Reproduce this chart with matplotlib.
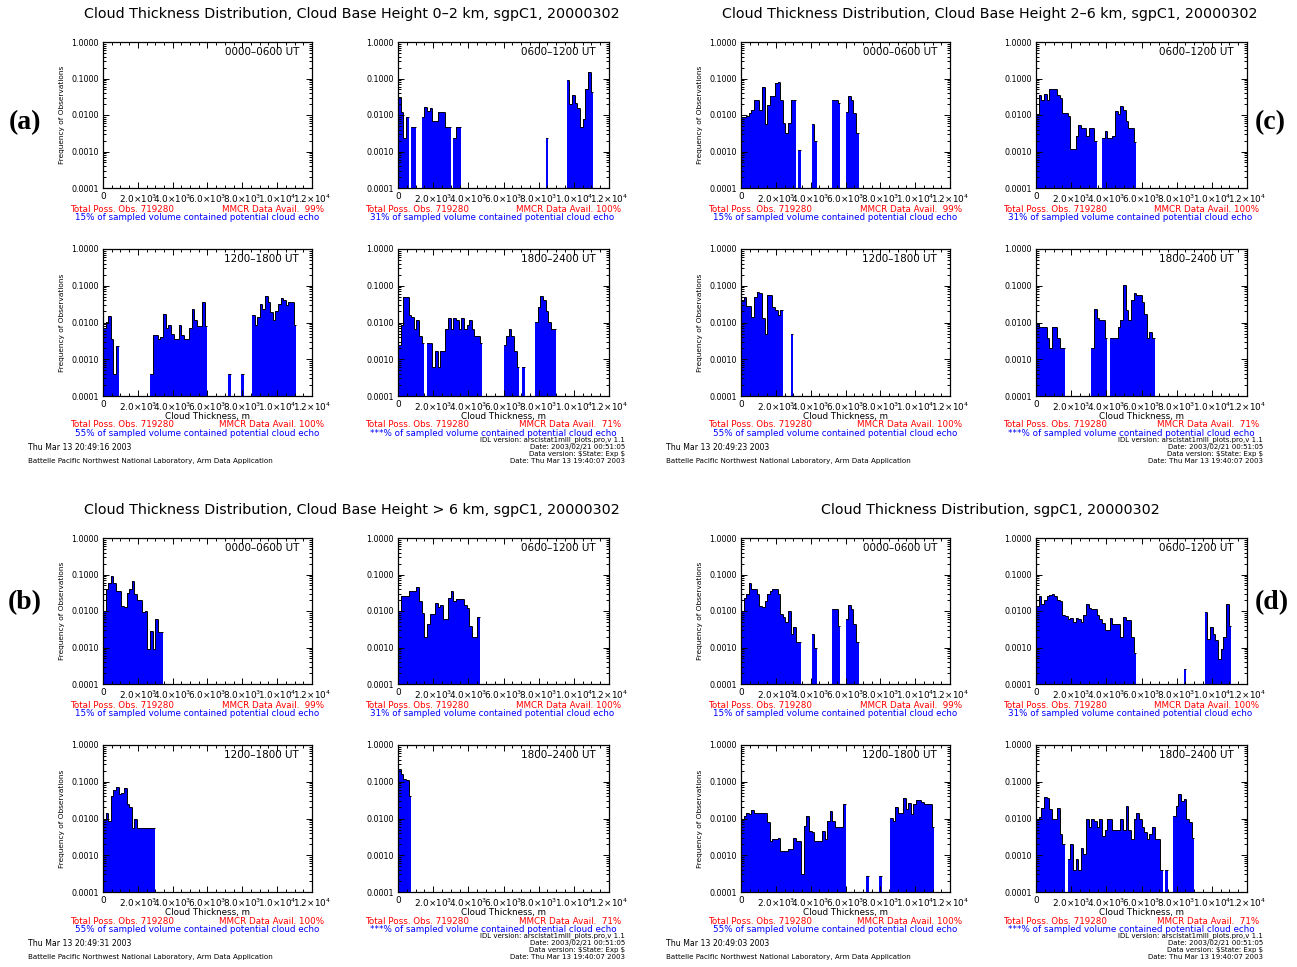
import numpy as np
import matplotlib.pyplot as plt
from matplotlib.ticker import FixedLocator, MultipleLocator, NullFormatter

# histogram bins: 150 m cloud-thickness classes, 0-12 km
BIN_WIDTH = 150.0
N_BINS = 80
bin_left = np.arange(N_BINS) * BIN_WIDTH

time_labels = ["0000–0600 UT", "0600–1200 UT", "1200–1800 UT", "1800–2400 UT"]
x_tick_values = [0, 2000, 4000, 6000, 8000, 10000, 12000]
x_tick_labels = ["0", r"2.0$\times$10$^3$", r"4.0$\times$10$^3$", r"6.0$\times$10$^3$",
                 r"8.0$\times$10$^3$", r"1.0$\times$10$^4$", r"1.2$\times$10$^4$"]
y_tick_values = [1e-4, 1e-3, 1e-2, 1e-1, 1.0]
y_tick_labels = ["0.0001", "0.0010", "0.0100", "0.1000", "1.0000"]

mmcr_avail = ["MMCR Data Avail.  99%", "MMCR Data Avail. 100%",
              "MMCR Data Avail. 100%", "MMCR Data Avail.  71%"]
echo_pct = ["15%", "31%", "55%", "***%"]
total_obs = "Total Poss. Obs. 719280"

# (a) cloud base 0-2 km
a_0000 = []
a_0600 = ([0.031, 0.012, 0.0024, 0.009, 0, 0.0047, 0.0047, 0, 0, 0.009, 0.017, 0.013,
           0.016, 0.007, 0.007, 0.012, 0.012, 0.012, 0.0047, 0.0047, 0, 0.0024, 0.0047, 0.0047]
          + [0] * 32 + [0.0024] + [0] * 7
          + [0.09, 0.02, 0.036, 0.022, 0.016, 0.0047, 0.008, 0.05, 0.15, 0.042])
a_1200 = ([0.007, 0.0105, 0.015, 0.0036, 0.0004, 0.0023] + [0] * 12
          + [0.0004, 0.0047, 0.0047, 0.0035, 0.004, 0.017, 0.0073, 0.0085, 0.005, 0.0035, 0.0035,
             0.0085, 0.0047, 0.0035, 0.0035, 0.0073, 0.024, 0.012, 0.008, 0.008, 0.036, 0.008]
          + [0] * 8 + [0.0004] + [0] * 4 + [0.0004] + [0] * 3
          + [0.016, 0.0085, 0.014, 0.031, 0.023, 0.052, 0.036, 0.019, 0.012, 0.021, 0.031,
             0.045, 0.04, 0.03, 0.036, 0.036, 0.0085])
a_1800 = ([0.0024, 0.0088, 0.05, 0.05, 0.016, 0.0137, 0.0065, 0.0117, 0.0042, 0.0028, 0]
          + [0.0028, 0.0028, 0.0006, 0.0017, 0.0006, 0.0017, 0.0017, 0.0065, 0.013, 0.0065, 0.013,
             0.0117, 0.0065, 0.013, 0.0065, 0.0085, 0.012, 0.0065, 0.0042, 0.0042, 0.0028]
          + [0] * 8 + [0.0024, 0.0042, 0.0065, 0.0042, 0.0017, 0.0006, 0, 0.0006] + [0] * 4
          + [0.0105, 0.026, 0.052, 0.04, 0.02, 0.0105, 0.0065, 0.0065])

# (b) cloud base > 6 km
b_0000 = [0.01, 0.04, 0.06, 0.09, 0.06, 0.036, 0.036, 0.014, 0.0125, 0.032, 0.04, 0.066,
          0.03, 0.02, 0.02, 0.0093, 0.01, 0.0009, 0.0028, 0.0009, 0.006, 0.0026, 0.0026]
b_0600 = [0.01, 0.026, 0.026, 0.026, 0.036, 0.036, 0.036, 0.045, 0.019, 0.009, 0.0019,
          0.0044, 0.0083, 0.0083, 0.017, 0.0125, 0.015, 0.006, 0.006, 0.023, 0.036, 0.019,
          0.022, 0.021, 0.021, 0.015, 0.012, 0.004, 0.0019, 0.0019, 0.0067]
b_1200 = [0.01, 0.0145, 0.0088, 0.04, 0.06, 0.07, 0.045, 0.05, 0.069, 0.025, 0.02,
          0.0056, 0.0095, 0.0055, 0.0055, 0.0055, 0.0055, 0.0055, 0.0055, 0.0055]
b_1800 = [0.22, 0.16, 0.117, 0.11, 0.04]

# (c) cloud base 2-6 km
c_0000 = ([0.009, 0.009, 0.0095, 0.011, 0.014, 0.026, 0.026, 0.014, 0.058, 0.0056, 0.019,
           0.033, 0.033, 0.075, 0.078, 0.026, 0.006, 0.0033, 0.006, 0.026, 0.026, 0, 0.0011]
          + [0] * 4 + [0.0056, 0.002] + [0] * 6
          + [0.026, 0.026, 0.021, 0, 0, 0.012, 0.034, 0.026, 0.011, 0.0033])
c_0600 = [0.0104, 0.036, 0.026, 0.038, 0.026, 0.05, 0.052, 0.052, 0.036, 0.03, 0.011, 0.011,
          0.0094, 0.0012, 0.0012, 0.0027, 0.0052, 0.0045, 0.0045, 0.0027, 0.0045, 0.0045,
          0.002, 0, 0, 0.0023, 0.0037, 0.0023, 0.0023, 0.0027, 0.0128, 0.0104, 0.018, 0.014,
          0.007, 0.0045, 0.0045, 0.0018]
c_1200 = [0.039, 0.05, 0.028, 0.028, 0.0137, 0.05, 0.068, 0.064, 0.013, 0.005, 0.055, 0.055,
          0.027, 0.022, 0.016, 0.022, 0, 0, 0, 0.0048]
c_1800 = ([0.0094, 0.0076, 0.0076, 0.0076, 0.0039, 0.002, 0.0076, 0.0076, 0.0039, 0.002, 0.002]
          + [0] * 10
          + [0.002, 0.024, 0.013, 0.012, 0.012, 0.0039, 0, 0.0039, 0.0039, 0.0039, 0.0076,
             0.012, 0.108, 0.022, 0.012, 0.041, 0.064, 0.055, 0.055, 0.037, 0.017, 0.0039,
             0.0055, 0.0039])

# (d) all cloud bases
d_0000 = ([0.01, 0.023, 0.03, 0.06, 0.04, 0.04, 0.029, 0.014, 0.013, 0.019, 0.029, 0.036,
           0.04, 0.04, 0.029, 0.0083, 0.0067, 0.005, 0.01, 0.0024, 0.0036, 0.0014, 0.0014]
          + [0] * 4 + [0.0024, 0.001] + [0] * 6
          + [0.011, 0.011, 0.004, 0, 0, 0.006, 0.015, 0.011, 0.0044, 0.0014])
d_0600 = ([0.014, 0.026, 0.016, 0.02, 0.025, 0.028, 0.03, 0.025, 0.02, 0.019, 0.008, 0.0075,
           0.006, 0.0065, 0.005, 0.0065, 0.006, 0.005, 0.008, 0.016, 0.012, 0.011, 0.011,
           0.008, 0.006, 0.0048, 0.003, 0.003, 0.0065, 0.0044, 0.0044, 0.0045, 0.0019,
           0.0067, 0.0055, 0.0055, 0.0019, 0.0007]
          + [0] * 18 + [0.00025] + [0] * 7
          + [0.0095, 0.0017, 0.0036, 0.0024, 0.0016, 0.00047, 0.0009, 0.0019, 0.0155, 0.004])
d_1200 = ([0.0095, 0.012, 0.0145, 0.013, 0.017, 0.0145, 0.014, 0.0145, 0.0145, 0.014, 0.0078,
           0.0025, 0.0028, 0.0028, 0.003, 0.0013, 0.0013, 0.0013, 0.0015, 0.0015, 0.003,
           0.0025, 0.0025, 0.0003, 0.0064, 0.012, 0.0047, 0.0043, 0.0025, 0.0025, 0.0025,
           0.0047, 0.0028, 0.0087, 0.016, 0.0087, 0.0058, 0.0058, 0.0058, 0.025]
          + [0] * 8 + [0.00028] + [0] * 4 + [0.00028] + [0] * 3
          + [0.0106, 0.0087, 0.02, 0.0145, 0.0145, 0.036, 0.018, 0.027, 0.013, 0.025, 0.032,
             0.032, 0.029, 0.025, 0.025, 0.025, 0.0058])
d_1800 = ([0.0095, 0.011, 0.0195, 0.039, 0.036, 0.0177, 0.0095, 0.0095, 0.0195, 0.0037, 0.002,
           0, 0.0008, 0.002, 0.0004, 0.0008, 0.0004, 0.0016, 0.0011]
          + [0.0095, 0.006, 0.0095, 0.0085, 0.0057, 0.0095, 0.0034, 0.005, 0.0095, 0.0095,
             0.0049, 0.0049, 0.0049, 0.0095, 0.005, 0.022, 0.005, 0.0027, 0.0095, 0.0144,
             0.0095, 0.006, 0.0042, 0.0027, 0.0037, 0.0057, 0.0027, 0.0027]
          + [0.0004, 0, 0.0004, 0, 0]
          + [0.012, 0.022, 0.045, 0.03, 0.034, 0.0095, 0.008, 0.003])

W, H = 1297, 967
fig = plt.figure(figsize=(W / 100, H / 100), dpi=100)
plt.rcParams["font.family"] = "DejaVu Sans"


def add_axes_px(x0, y0, x1, y1):
    return fig.add_axes([x0 / W, 1 - y1 / H, (x1 - x0) / W, (y1 - y0) / H])


def text_px(x, y, s, **kw):
    fig.text(x / W, 1 - y / H, s, **kw)


def draw_hist(ax, values):
    freq = np.zeros(N_BINS)
    freq[:len(values)] = values
    has = freq > 0
    ax.set_yscale("log")
    ax.bar(bin_left[has], freq[has], width=BIN_WIDTH, align="edge",
           color="#0000ff", edgecolor="none", linewidth=0)
    ax.hlines(freq[has], bin_left[has], bin_left[has] + BIN_WIDTH, color="black", lw=0.7)
    joint = has[:-1] & has[1:]
    lo = np.minimum(freq[:-1], freq[1:])[joint]
    hi = np.maximum(freq[:-1], freq[1:])[joint]
    ax.vlines(bin_left[1:][joint], lo, hi, color="black", lw=0.7)
    ax.set_xlim(0, 12000)
    ax.set_ylim(1e-4, 1.0)
    ax.xaxis.set_major_locator(FixedLocator(x_tick_values))
    ax.set_xticklabels(x_tick_labels)
    ax.xaxis.set_minor_locator(MultipleLocator(500))
    ax.yaxis.set_major_locator(FixedLocator(y_tick_values))
    ax.set_yticklabels(y_tick_labels)
    ax.yaxis.set_minor_locator(FixedLocator(
        [m * 10.0 ** e for e in range(-4, 0) for m in range(2, 10)]))
    ax.yaxis.set_minor_formatter(NullFormatter())
    ax.tick_params(which="both", direction="in", top=True, right=True, width=0.7)
    ax.tick_params(which="major", length=4, pad=3)
    ax.tick_params(which="minor", length=2)
    ax.tick_params(axis="x", labelsize=6.4)
    ax.tick_params(axis="y", labelsize=5.8)
    for sp in ax.spines.values():
        sp.set_linewidth(0.9)


quadrants = [
    ("(a)", 0, 0, (25, 123), "Cloud Thickness Distribution, Cloud Base Height 0–2 km, sgpC1, 20000302",
     [a_0000, a_0600, a_1200, a_1800], "Thu Mar 13 20:49:16 2003"),
    ("(c)", 638, 0, (1270, 123), "Cloud Thickness Distribution, Cloud Base Height 2–6 km, sgpC1, 20000302",
     [c_0000, c_0600, c_1200, c_1800], "Thu Mar 13 20:49:23 2003"),
    ("(b)", 0, 496, (25, 603), "Cloud Thickness Distribution, Cloud Base Height > 6 km, sgpC1, 20000302",
     [b_0000, b_0600, b_1200, b_1800], "Thu Mar 13 20:49:31 2003"),
    ("(d)", 638, 496, (1272, 603), "Cloud Thickness Distribution, sgpC1, 20000302",
     [d_0000, d_0600, d_1200, d_1800], "Thu Mar 13 20:49:03 2003"),
]

col_x = [(103, 312), (398, 609)]
row_y = [(42, 188), (249, 396)]
idl_lines = ["IDL version: arsclstat1mlll_plots.pro,v 1.1", "Date: 2003/02/21 00:51:05",
             r"Data version: \$State: Exp \$", "Date: Thu Mar 13 19:40:07 2003"]

for letter, dx, dy, lpos, title, series, stamp in quadrants:
    text_px(352 + dx, 14 + dy, title, ha="center", va="center", fontsize=10.3)
    text_px(lpos[0], lpos[1], letter, ha="center", va="center", fontsize=20,
            family="Liberation Serif", weight="bold")
    for k, vals in enumerate(series):
        r, c = divmod(k, 2)
        x0, x1 = col_x[c][0] + dx, col_x[c][1] + dx
        y0, y1 = row_y[r][0] + dy, row_y[r][1] + dy
        ax = add_axes_px(x0, y0, x1, y1)
        draw_hist(ax, vals)
        text_px(x1 - 13, y0 + 10, time_labels[k], ha="right", va="center", fontsize=7.5)
        if c == 0:
            text_px(x0 - 41, (y0 + y1) / 2, "Frequency of Observations", rotation=90,
                    ha="center", va="center", fontsize=5.3)
        base = y1 + 21
        if r == 1:
            text_px((x0 + x1) / 2, y1 + 20, "Cloud Thickness, m", ha="center", va="center",
                    fontsize=6.3)
            base = y1 + 29
        text_px(x0 - 33, base, total_obs, ha="left", va="center", fontsize=6.3, color="#ff0000")
        text_px(x1 + 12, base, mmcr_avail[k], ha="right", va="center", fontsize=6.3,
                color="#ff0000")
        text_px(x0 - 28, base + 9, echo_pct[k] + " of sampled volume contained potential cloud echo",
                ha="left", va="center", fontsize=6.3, color="#0000ff")
    text_px(28 + dx, 447 + dy, stamp, ha="left", va="center", fontsize=5.6)
    text_px(28 + dx, 461 + dy, "Battelle Pacific Northwest National Laboratory, Arm Data Application",
            ha="left", va="center", fontsize=5.1)
    for j, line in enumerate(idl_lines):
        text_px(625 + dx, 440 + 7 * j + dy, line, ha="right", va="center", fontsize=5)

fig.savefig("out.png", dpi=100)
